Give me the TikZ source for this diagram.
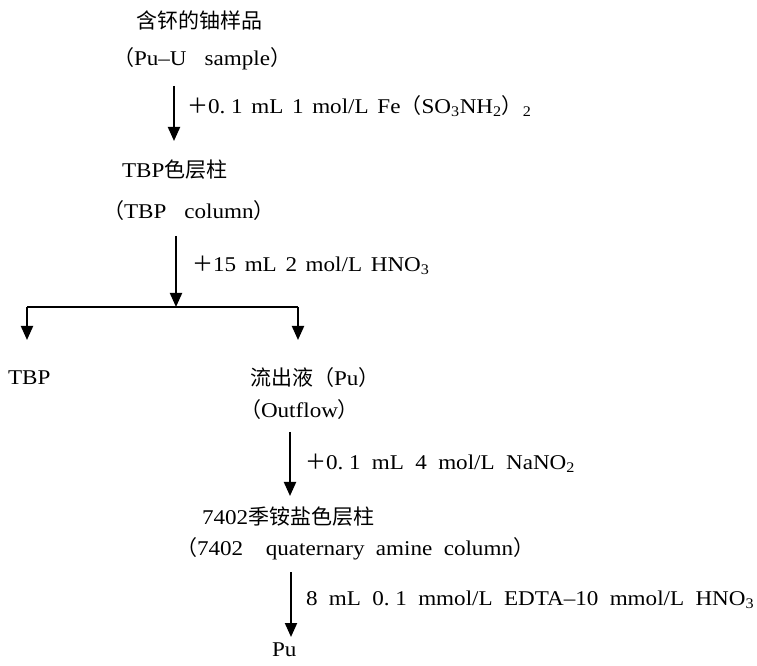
\documentclass[tikz,border=0pt]{standalone}
\usepackage{fontspec}
\setmainfont{Liberation Serif}[FakeStretch=1.1]
\newfontfamily\cjk{Noto Sans CJK SC}
\usetikzlibrary{arrows.meta}
\newcommand\zh[1]{{\cjk #1}}
\newcommand\sub[1]{\textsubscript{#1}}
% word gaps used in the labels
\newcommand\gp{\hspace{8.5pt}}
\newcommand\gs{\hspace{5pt}}
\newcommand\gm{\hspace{6.5pt}}
\begin{document}
\begin{tikzpicture}[x=0.75pt,y=-0.75pt,
  every node/.style={inner sep=0pt,outer sep=0pt,font=\fontsize{15.75}{18}\selectfont},
  txt/.style={anchor=west},
  flow/.style={line width=1.5pt,-{Triangle[width=9pt,length=10.5pt]}},
  bar/.style={line width=1.5pt}]
\useasboundingbox (0,0) rectangle (757,666);

% sample and first column
\node[txt] (sample) at (136,20) {\zh{含钚的铀样品}};
\node[txt] (sampleen) at (113,59) {\zh{（}Pu–U\gp\gs sample\zh{）}};
\coordinate (a1s) at (174,86);
\coordinate (a1e) at (174,141);
\draw[flow] (a1s) -- (a1e);
\node[txt] (add1) at (187,106) {\zh{＋}0.\ 1\gm mL\gm 1\gm mol/L\gm Fe\zh{（}SO\sub{3}NH\sub{2}\zh{）}\sub{2}};

\node[txt] (tbpcol) at (122,170) {TBP\zh{色层柱}};
\node[txt] (tbpcolen) at (103,211) {\zh{（}TBP\gp\gs column\zh{）}};
\coordinate (a2s) at (176,236);
\coordinate (split) at (176,307);
\draw[flow] (a2s) -- (split);
\node[txt] (add2) at (192,265) {\zh{＋}15\gm mL\gm 2\gm mol/L\gm HNO\sub{3}};

% branches
\coordinate (bl) at (27,307);
\coordinate (br) at (298,307);
\coordinate (blend) at (27,340);
\coordinate (brend) at (298,340);
\draw[bar] (bl) -- (br);
\draw[flow] (bl) -- (blend);
\draw[flow] (br) -- (brend);

\node[txt] (tbp) at (8,378) {TBP};
\node[txt] (outflow) at (250,378) {\zh{流出液（}Pu\zh{）}};
\node[txt] (outflowen) at (240,410) {\zh{（}Outflow\zh{）}};

% second column
\coordinate (a3s) at (290,432);
\coordinate (a3e) at (290,496);
\draw[flow] (a3s) -- (a3e);
\node[txt] (add3) at (305,463) {\zh{＋}0.\ 1\gp mL\gp 4\gp mol/L\gp NaNO\sub{2}};

\node[txt] (qcol) at (202,517) {7402\zh{季铵盐色层柱}};
\node[txt] (qcolen) at (176,549) {\zh{（}7402\gp\gp quaternary\gp amine\gp column\zh{）}};
\coordinate (a4s) at (291,572);
\coordinate (a4e) at (291,637);
\draw[flow] (a4s) -- (a4e);
\node[txt] (elute) at (306,600) {8\gp mL\gp 0.\ 1\gp mmol/L\gp EDTA–10\gp mmol/L\gp HNO\sub{3}};

\node[txt] (pu) at (272,650) {Pu};
\end{tikzpicture}
\end{document}
